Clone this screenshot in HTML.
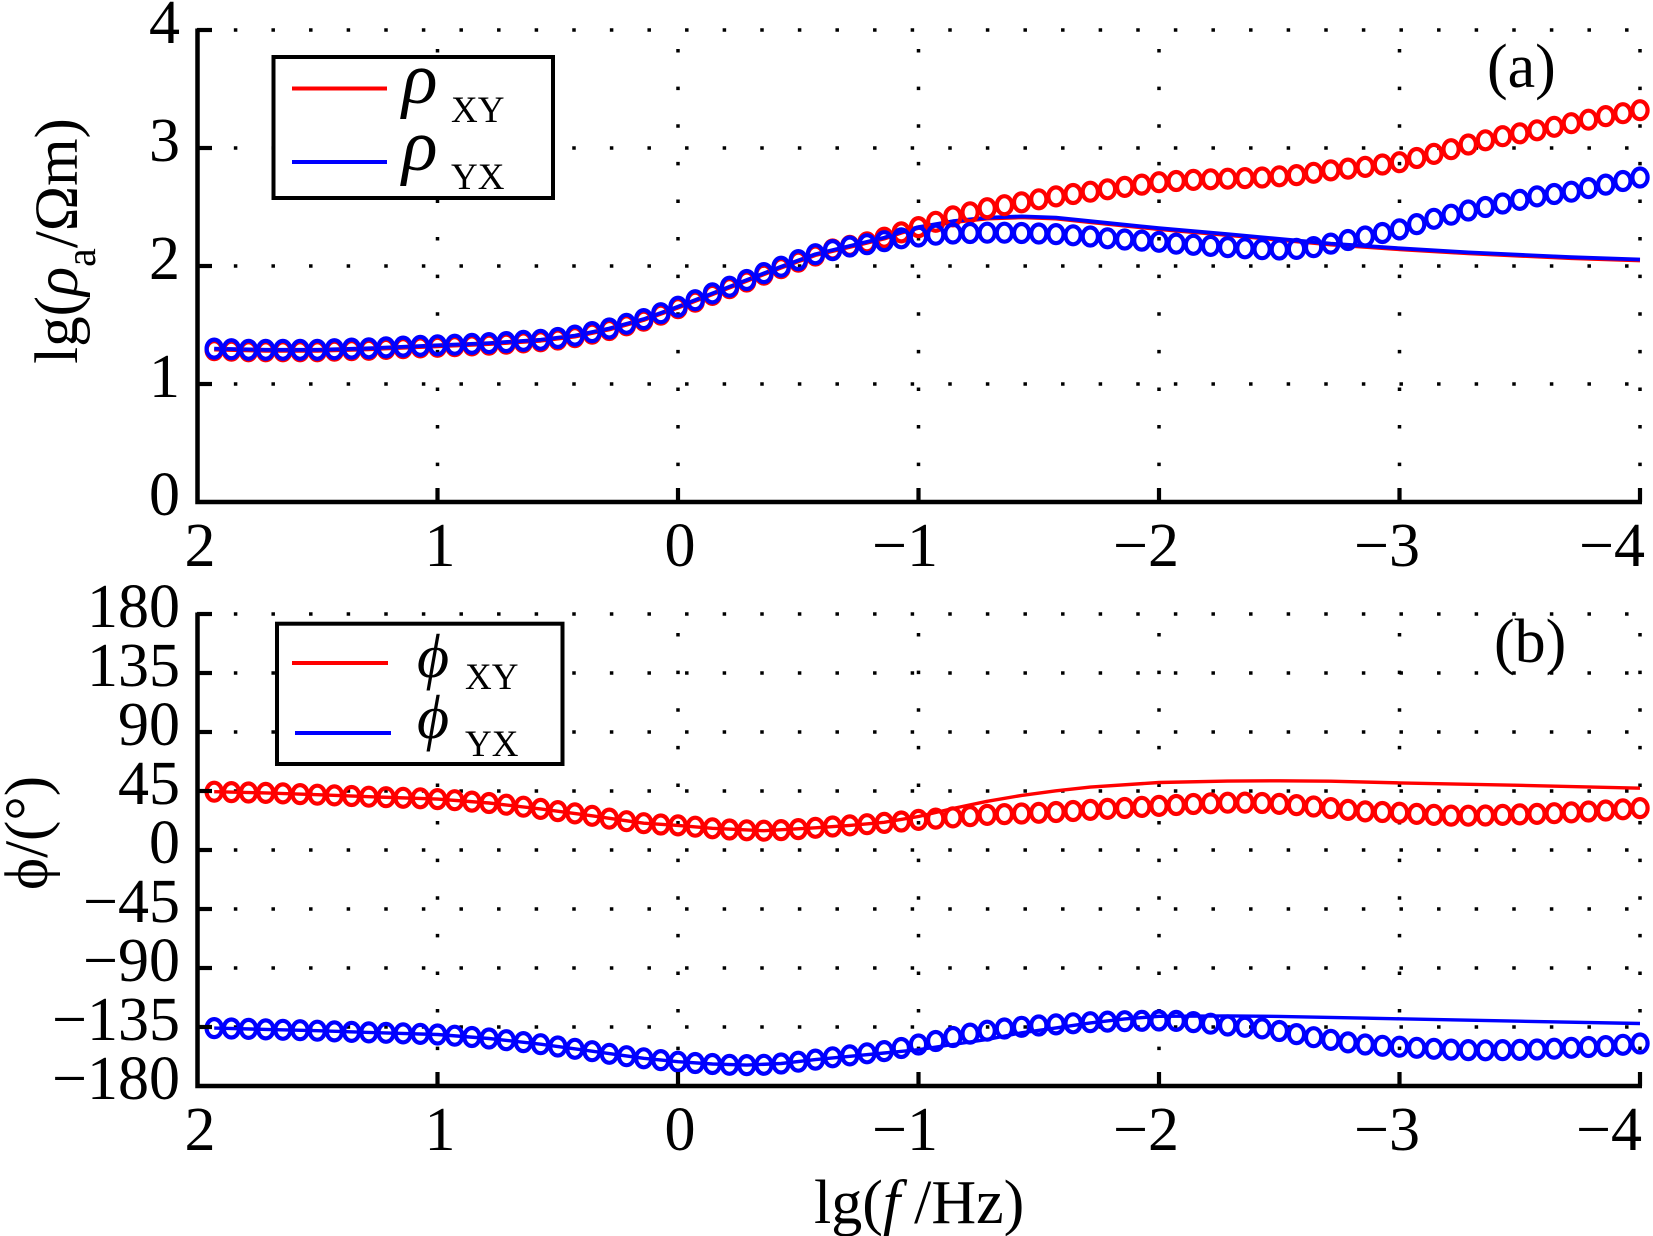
<!DOCTYPE html>
<html>
<head>
<meta charset="utf-8">
<style>
html,body{margin:0;padding:0;background:#fff;}
svg{display:block;}
text{font-family:"Liberation Serif","DejaVu Serif",serif;fill:#000;}
</style>
</head>
<body>
<svg width="1653" height="1236" viewBox="0 0 1653 1236" xmlns="http://www.w3.org/2000/svg">
<defs>
<marker id="mR" markerUnits="userSpaceOnUse" markerWidth="30" markerHeight="30" refX="0" refY="0" style="overflow:visible">
<ellipse cx="0" cy="0" rx="7.6" ry="9.0" fill="none" stroke="#ff0000" stroke-width="4.2"/>
</marker>
<marker id="mB" markerUnits="userSpaceOnUse" markerWidth="30" markerHeight="30" refX="0" refY="0" style="overflow:visible">
<ellipse cx="0" cy="0" rx="7.6" ry="9.0" fill="none" stroke="#0000ff" stroke-width="4.2"/>
</marker>
</defs>
<rect width="1653" height="1236" fill="#fff"/>

<!-- ===== Panel (a) grid ===== -->
<g stroke="#000" stroke-width="3.5" stroke-dasharray="3.5 34.1" fill="none">
<path d="M197,30H1642" stroke-dashoffset="0.75"/>
<path d="M197,148H1642" stroke-dashoffset="0.75"/>
<path d="M197,266H1642" stroke-dashoffset="0.75"/>
<path d="M197,384H1642" stroke-dashoffset="0.75"/>
<path d="M437.5,502V28" stroke-dashoffset="1.75"/>
<path d="M678,502V28" stroke-dashoffset="1.75"/>
<path d="M918.5,502V28" stroke-dashoffset="1.75"/>
<path d="M1159,502V28" stroke-dashoffset="1.75"/>
<path d="M1399.5,502V28" stroke-dashoffset="1.75"/>
<path d="M1640,502V28" stroke-dashoffset="1.75"/>
</g>

<!-- ===== Panel (b) grid ===== -->
<g stroke="#000" stroke-width="3.5" stroke-dasharray="3.5 34.1" fill="none">
<path d="M197,614H1642" stroke-dashoffset="0.75"/>
<path d="M197,673H1642" stroke-dashoffset="0.75"/>
<path d="M197,732H1642" stroke-dashoffset="0.75"/>
<path d="M197,791H1642" stroke-dashoffset="0.75"/>
<path d="M197,850H1642" stroke-dashoffset="0.75"/>
<path d="M197,909H1642" stroke-dashoffset="0.75"/>
<path d="M197,968H1642" stroke-dashoffset="0.75"/>
<path d="M197,1027H1642" stroke-dashoffset="0.75"/>
<path d="M437.5,1086V612" stroke-dashoffset="1.75"/>
<path d="M678,1086V612" stroke-dashoffset="1.75"/>
<path d="M918.5,1086V612" stroke-dashoffset="1.75"/>
<path d="M1159,1086V612" stroke-dashoffset="1.75"/>
<path d="M1399.5,1086V612" stroke-dashoffset="1.75"/>
<path d="M1640,1086V612" stroke-dashoffset="1.75"/>
</g>

<!-- ===== Panel (a) curves ===== -->
<polyline fill="none" stroke="#ff0000" stroke-width="3.8" stroke-linejoin="round" points="214.2,349.6 265.7,350.8 317.3,350.8 368.8,349.3 437.5,346.3 489.0,344.1 540.6,340.8 574.9,336.6 609.3,329.5 643.7,320.1 678.0,307.7 712.4,294.4 746.7,281.0 781.1,267.7 815.4,255.2 849.8,247.0 884.2,238.7 901.3,232.8 918.5,228.1 952.9,222.2 987.2,218.6 1021.6,217.4 1056.0,218.6 1090.3,222.2 1159.0,229.2 1227.7,235.1 1279.3,239.9 1330.8,244.6 1399.5,249.3 1468.3,253.4 1519.8,255.8 1571.3,258.2 1640.0,260.5"/>
<polyline fill="none" stroke="#0000ff" stroke-width="3.8" stroke-linejoin="round" points="214.2,348.6 265.7,349.8 317.3,349.8 368.8,348.3 437.5,345.3 489.0,343.1 540.6,339.8 574.9,335.6 609.3,328.5 643.7,319.1 678.0,306.7 712.4,293.4 746.7,280.0 781.1,266.7 815.4,254.2 849.8,246.0 884.2,237.7 901.3,231.8 918.5,227.1 952.9,221.2 987.2,217.6 1021.6,216.4 1056.0,217.6 1090.3,221.2 1159.0,228.2 1227.7,234.1 1279.3,238.9 1330.8,243.6 1399.5,248.3 1468.3,252.4 1519.8,254.8 1571.3,257.2 1640.0,259.5"/>

<polyline fill="none" stroke="none" marker-start="url(#mR)" marker-mid="url(#mR)" marker-end="url(#mR)" points="214.2,350.1 231.4,350.7 248.5,351.3 265.7,351.3 282.9,351.3 300.1,351.3 317.3,351.3 334.4,350.7 351.6,350.1 368.8,349.8 386.0,348.9 403.1,348.1 420.3,347.4 437.5,346.8 454.7,346.2 471.9,345.4 489.0,344.6 506.2,343.6 523.4,342.4 540.6,341.3 557.8,339.5 574.9,337.1 592.1,333.6 609.3,330.0 626.5,325.3 643.7,320.6 660.8,314.7 678.0,308.2 695.2,301.7 712.4,294.9 729.5,288.2 746.7,281.5 763.9,274.6 781.1,268.2 798.3,261.6 815.4,255.5 832.6,249.5 849.8,245.9 867.0,242.4 884.2,237.7 901.3,232.4 918.5,227.1 935.7,221.8 952.9,216.4 970.1,212.3 987.2,208.2 1004.4,205.2 1021.6,202.3 1038.8,199.3 1056.0,196.4 1073.1,194.0 1090.3,191.7 1107.5,189.3 1124.7,186.9 1141.8,184.6 1159.0,182.2 1176.2,181.0 1193.4,179.9 1210.6,179.3 1227.7,178.7 1244.9,178.1 1262.1,177.5 1279.3,176.3 1296.5,175.1 1313.6,172.8 1330.8,170.4 1348.0,168.6 1365.2,166.9 1382.4,164.5 1399.5,162.2 1416.7,158.0 1433.9,153.9 1451.1,149.2 1468.3,144.5 1485.4,140.3 1502.6,136.2 1519.8,133.3 1537.0,130.3 1554.2,126.8 1571.3,123.2 1588.5,119.7 1605.7,116.1 1622.9,113.2 1640.0,110.2"/>

<polyline fill="none" stroke="none" marker-start="url(#mB)" marker-mid="url(#mB)" marker-end="url(#mB)" points="214.2,348.6 231.4,349.2 248.5,349.8 265.7,349.8 282.9,349.8 300.1,349.8 317.3,349.8 334.4,349.2 351.6,348.6 368.8,348.3 386.0,347.4 403.1,346.6 420.3,345.9 437.5,345.3 454.7,344.7 471.9,343.9 489.0,343.1 506.2,342.1 523.4,340.9 540.6,339.8 557.8,338.0 574.9,335.6 592.1,332.1 609.3,328.5 626.5,323.8 643.7,319.1 660.8,313.2 678.0,306.7 695.2,300.2 712.4,293.4 729.5,286.7 746.7,280.0 763.9,273.1 781.1,266.7 798.3,260.1 815.4,254.2 832.6,250.1 849.8,246.5 867.0,244.2 884.2,241.2 901.3,238.3 918.5,236.5 935.7,234.7 952.9,233.5 970.1,233.0 987.2,232.7 1004.4,232.7 1021.6,233.0 1038.8,233.5 1056.0,234.1 1073.1,235.3 1090.3,236.5 1107.5,238.3 1124.7,239.5 1141.8,240.6 1159.0,241.8 1176.2,243.6 1193.4,244.8 1210.6,245.9 1227.7,247.1 1244.9,248.3 1262.1,249.2 1279.3,249.5 1296.5,248.9 1313.6,247.1 1330.8,243.6 1348.0,240.0 1365.2,236.5 1382.4,233.0 1399.5,229.4 1416.7,224.1 1433.9,218.8 1451.1,214.7 1468.3,210.5 1485.4,207.0 1502.6,203.5 1519.8,199.9 1537.0,196.4 1554.2,194.0 1571.3,191.7 1588.5,188.1 1605.7,184.6 1622.9,181.0 1640.0,177.5"/>

<!-- ===== Panel (b) curves ===== -->
<polyline fill="none" stroke="#ff0000" stroke-width="3.4" stroke-linejoin="round" points="214.2,791.7 265.7,792.9 317.3,794.7 368.8,796.7 437.5,799.1 489.0,803.0 540.6,808.9 592.1,815.8 643.7,823.2 678.0,825.4 712.4,828.3 763.9,830.7 815.4,827.8 849.8,825.4 884.2,822.3 918.5,816.5 952.9,808.5 987.2,801.3 1021.6,795.4 1056.0,790.8 1090.3,787.1 1159.0,782.5 1227.7,781.1 1279.3,780.8 1330.8,781.2 1399.5,782.9 1519.8,785.3 1640.0,788.2"/>
<polyline fill="none" stroke="#0000ff" stroke-width="3.4" stroke-linejoin="round" points="214.2,1028.1 265.7,1029.4 317.3,1030.7 368.8,1032.4 437.5,1034.5 489.0,1038.5 540.6,1044.2 592.1,1051.2 643.7,1058.3 678.0,1061.7 712.4,1064.0 746.7,1065.1 781.1,1063.5 815.4,1059.6 849.8,1056.3 884.2,1053.0 918.5,1049.7 952.9,1044.5 987.2,1039.4 1021.6,1032.8 1056.0,1027.9 1090.3,1022.9 1124.7,1018.9 1159.0,1016.3 1227.7,1015.9 1279.3,1016.4 1399.5,1018.8 1519.8,1021.2 1640.0,1023.5"/>

<polyline fill="none" stroke="none" marker-start="url(#mR)" marker-mid="url(#mR)" marker-end="url(#mR)" points="214.2,791.7 231.4,792.1 248.5,792.5 265.7,792.9 282.9,793.4 300.1,794.1 317.3,794.7 334.4,795.4 351.6,796.0 368.8,796.7 386.0,797.2 403.1,797.8 420.3,798.3 437.5,799.1 454.7,800.2 471.9,801.6 489.0,803.0 506.2,804.7 523.4,806.7 540.6,808.9 557.8,811.1 574.9,813.4 592.1,815.8 609.3,818.6 626.5,821.2 643.7,823.2 660.8,824.5 678.0,825.4 695.2,826.7 712.4,828.3 729.5,829.5 746.7,830.3 763.9,830.7 781.1,830.1 798.3,829.1 815.4,827.8 832.6,826.5 849.8,825.4 867.0,824.2 884.2,822.9 901.3,821.5 918.5,819.9 935.7,818.6 952.9,817.4 970.1,816.1 987.2,814.9 1004.4,814.1 1021.6,813.5 1038.8,812.8 1056.0,812.0 1073.1,811.0 1090.3,809.9 1107.5,808.9 1124.7,808.0 1141.8,806.9 1159.0,805.9 1176.2,805.0 1193.4,804.0 1210.6,803.3 1227.7,802.7 1244.9,802.6 1262.1,803.0 1279.3,803.9 1296.5,805.1 1313.6,806.5 1330.8,808.1 1348.0,809.9 1365.2,811.4 1382.4,812.0 1399.5,812.7 1416.7,813.9 1433.9,814.9 1451.1,815.6 1468.3,815.7 1485.4,815.5 1502.6,814.9 1519.8,814.4 1537.0,813.9 1554.2,813.2 1571.3,812.4 1588.5,811.5 1605.7,810.5 1622.9,809.3 1640.0,808.1"/>

<polyline fill="none" stroke="none" marker-start="url(#mB)" marker-mid="url(#mB)" marker-end="url(#mB)" points="214.2,1028.1 231.4,1028.5 248.5,1028.9 265.7,1029.4 282.9,1029.8 300.1,1030.2 317.3,1030.7 334.4,1031.4 351.6,1031.9 368.8,1032.4 386.0,1032.8 403.1,1033.4 420.3,1033.9 437.5,1034.5 454.7,1035.7 471.9,1037.0 489.0,1038.5 506.2,1040.2 523.4,1042.1 540.6,1044.2 557.8,1046.5 574.9,1048.8 592.1,1051.2 609.3,1053.8 626.5,1056.2 643.7,1058.3 660.8,1060.1 678.0,1061.7 695.2,1063.0 712.4,1064.0 729.5,1064.8 746.7,1065.1 763.9,1064.8 781.1,1063.5 798.3,1061.7 815.4,1059.6 832.6,1057.3 849.8,1055.4 867.0,1053.3 884.2,1051.1 901.3,1048.0 918.5,1044.5 935.7,1041.0 952.9,1037.0 970.1,1033.6 987.2,1030.7 1004.4,1028.5 1021.6,1026.8 1038.8,1025.5 1056.0,1024.4 1073.1,1023.3 1090.3,1022.2 1107.5,1021.6 1124.7,1021.2 1141.8,1020.8 1159.0,1020.5 1176.2,1020.9 1193.4,1022.1 1210.6,1023.7 1227.7,1025.5 1244.9,1026.8 1262.1,1028.4 1279.3,1031.0 1296.5,1034.1 1313.6,1037.2 1330.8,1039.9 1348.0,1042.4 1365.2,1044.5 1382.4,1045.8 1399.5,1046.7 1416.7,1047.8 1433.9,1048.8 1451.1,1049.6 1468.3,1050.1 1485.4,1050.3 1502.6,1050.1 1519.8,1049.9 1537.0,1049.5 1554.2,1048.7 1571.3,1047.8 1588.5,1047.0 1605.7,1046.1 1622.9,1044.8 1640.0,1043.5"/>

<!-- ===== Axes ===== -->
<g stroke="#000" stroke-width="4.5" fill="none">
<path d="M197.5,28.5V502H1642"/>
<path d="M197.5,612.5V1086H1642"/>
</g>
<g stroke="#000" stroke-width="4.2">
<line x1="197" y1="30" x2="212" y2="30"/>
<line x1="197" y1="148" x2="212" y2="148"/>
<line x1="197" y1="266" x2="212" y2="266"/>
<line x1="197" y1="384" x2="212" y2="384"/>
<line x1="437.5" y1="502" x2="437.5" y2="488"/>
<line x1="678" y1="502" x2="678" y2="488"/>
<line x1="918.5" y1="502" x2="918.5" y2="488"/>
<line x1="1159" y1="502" x2="1159" y2="488"/>
<line x1="1399.5" y1="502" x2="1399.5" y2="488"/>
<line x1="1640" y1="502" x2="1640" y2="488"/>
<line x1="197" y1="614" x2="212" y2="614"/>
<line x1="197" y1="673" x2="212" y2="673"/>
<line x1="197" y1="732" x2="212" y2="732"/>
<line x1="197" y1="791" x2="212" y2="791"/>
<line x1="197" y1="850" x2="212" y2="850"/>
<line x1="197" y1="909" x2="212" y2="909"/>
<line x1="197" y1="968" x2="212" y2="968"/>
<line x1="197" y1="1027" x2="212" y2="1027"/>
<line x1="437.5" y1="1086" x2="437.5" y2="1072"/>
<line x1="678" y1="1086" x2="678" y2="1072"/>
<line x1="918.5" y1="1086" x2="918.5" y2="1072"/>
<line x1="1159" y1="1086" x2="1159" y2="1072"/>
<line x1="1399.5" y1="1086" x2="1399.5" y2="1072"/>
<line x1="1640" y1="1086" x2="1640" y2="1072"/>
</g>

<!-- ===== Legends ===== -->
<rect x="273.5" y="57" width="279.5" height="141" fill="#fff" stroke="#000" stroke-width="4"/>
<line x1="292" y1="88.5" x2="387" y2="88.5" stroke="#ff0000" stroke-width="4"/>
<line x1="292" y1="162" x2="387" y2="162" stroke="#0000ff" stroke-width="4"/>
<text x="402" y="103" font-size="74" font-style="italic">ρ</text>
<text x="451" y="122" font-size="37">XY</text>
<text x="402" y="170" font-size="74" font-style="italic">ρ</text>
<text x="451" y="189" font-size="37">YX</text>

<rect x="277" y="623.7" width="285.5" height="140.3" fill="#fff" stroke="#000" stroke-width="4"/>
<line x1="292" y1="663" x2="388" y2="663" stroke="#ff0000" stroke-width="4"/>
<line x1="295" y1="733" x2="391" y2="733" stroke="#0000ff" stroke-width="4"/>
<text x="417" y="677" font-size="62" font-style="italic">ϕ</text>
<text x="465" y="689" font-size="37">XY</text>
<text x="417" y="738" font-size="62" font-style="italic">ϕ</text>
<text x="465" y="756" font-size="37">YX</text>

<!-- ===== Panel labels ===== -->
<text x="1487" y="87" font-size="62">(a)</text>
<text x="1494" y="662" font-size="62">(b)</text>

<!-- ===== Tick labels (a) ===== -->
<g font-size="62" text-anchor="end">
<text x="180" y="43">4</text>
<text x="180" y="161">3</text>
<text x="180" y="279">2</text>
<text x="180" y="397">1</text>
<text x="180" y="515">0</text>
</g>
<g font-size="62">
<text x="200" y="566" text-anchor="middle">2</text>
<text x="440" y="566" text-anchor="middle">1</text>
<text x="680" y="566" text-anchor="middle">0</text>
<text x="938" y="566" text-anchor="end">−1</text>
<text x="1179" y="566" text-anchor="end">−2</text>
<text x="1420" y="566" text-anchor="end">−3</text>
<text x="1645" y="566" text-anchor="end">−4</text>
</g>

<!-- ===== Tick labels (b) ===== -->
<g font-size="62" text-anchor="end">
<text x="180" y="627">180</text>
<text x="180" y="686">135</text>
<text x="180" y="745">90</text>
<text x="180" y="804">45</text>
<text x="180" y="863">0</text>
<text x="180" y="922">−45</text>
<text x="180" y="981">−90</text>
<text x="180" y="1040">−135</text>
<text x="180" y="1099">−180</text>
</g>
<g font-size="62">
<text x="200" y="1150" text-anchor="middle">2</text>
<text x="440" y="1150" text-anchor="middle">1</text>
<text x="680" y="1150" text-anchor="middle">0</text>
<text x="938" y="1150" text-anchor="end">−1</text>
<text x="1179" y="1150" text-anchor="end">−2</text>
<text x="1420" y="1150" text-anchor="end">−3</text>
<text x="1642" y="1150" text-anchor="end">−4</text>
</g>

<!-- ===== Axis labels ===== -->
<text transform="translate(77,241) rotate(-90)" text-anchor="middle" font-size="61">lg(<tspan font-style="italic">ρ</tspan><tspan font-size="42" dy="18">a</tspan><tspan dy="-18">/Ωm)</tspan></text>
<text transform="translate(47,833) rotate(-90)" text-anchor="middle" font-size="61">ϕ/(°)</text>
<text x="814" y="1223" font-size="62">lg(<tspan font-style="italic">f</tspan><tspan dx="14">/Hz)</tspan></text>
</svg>
</body>
</html>
